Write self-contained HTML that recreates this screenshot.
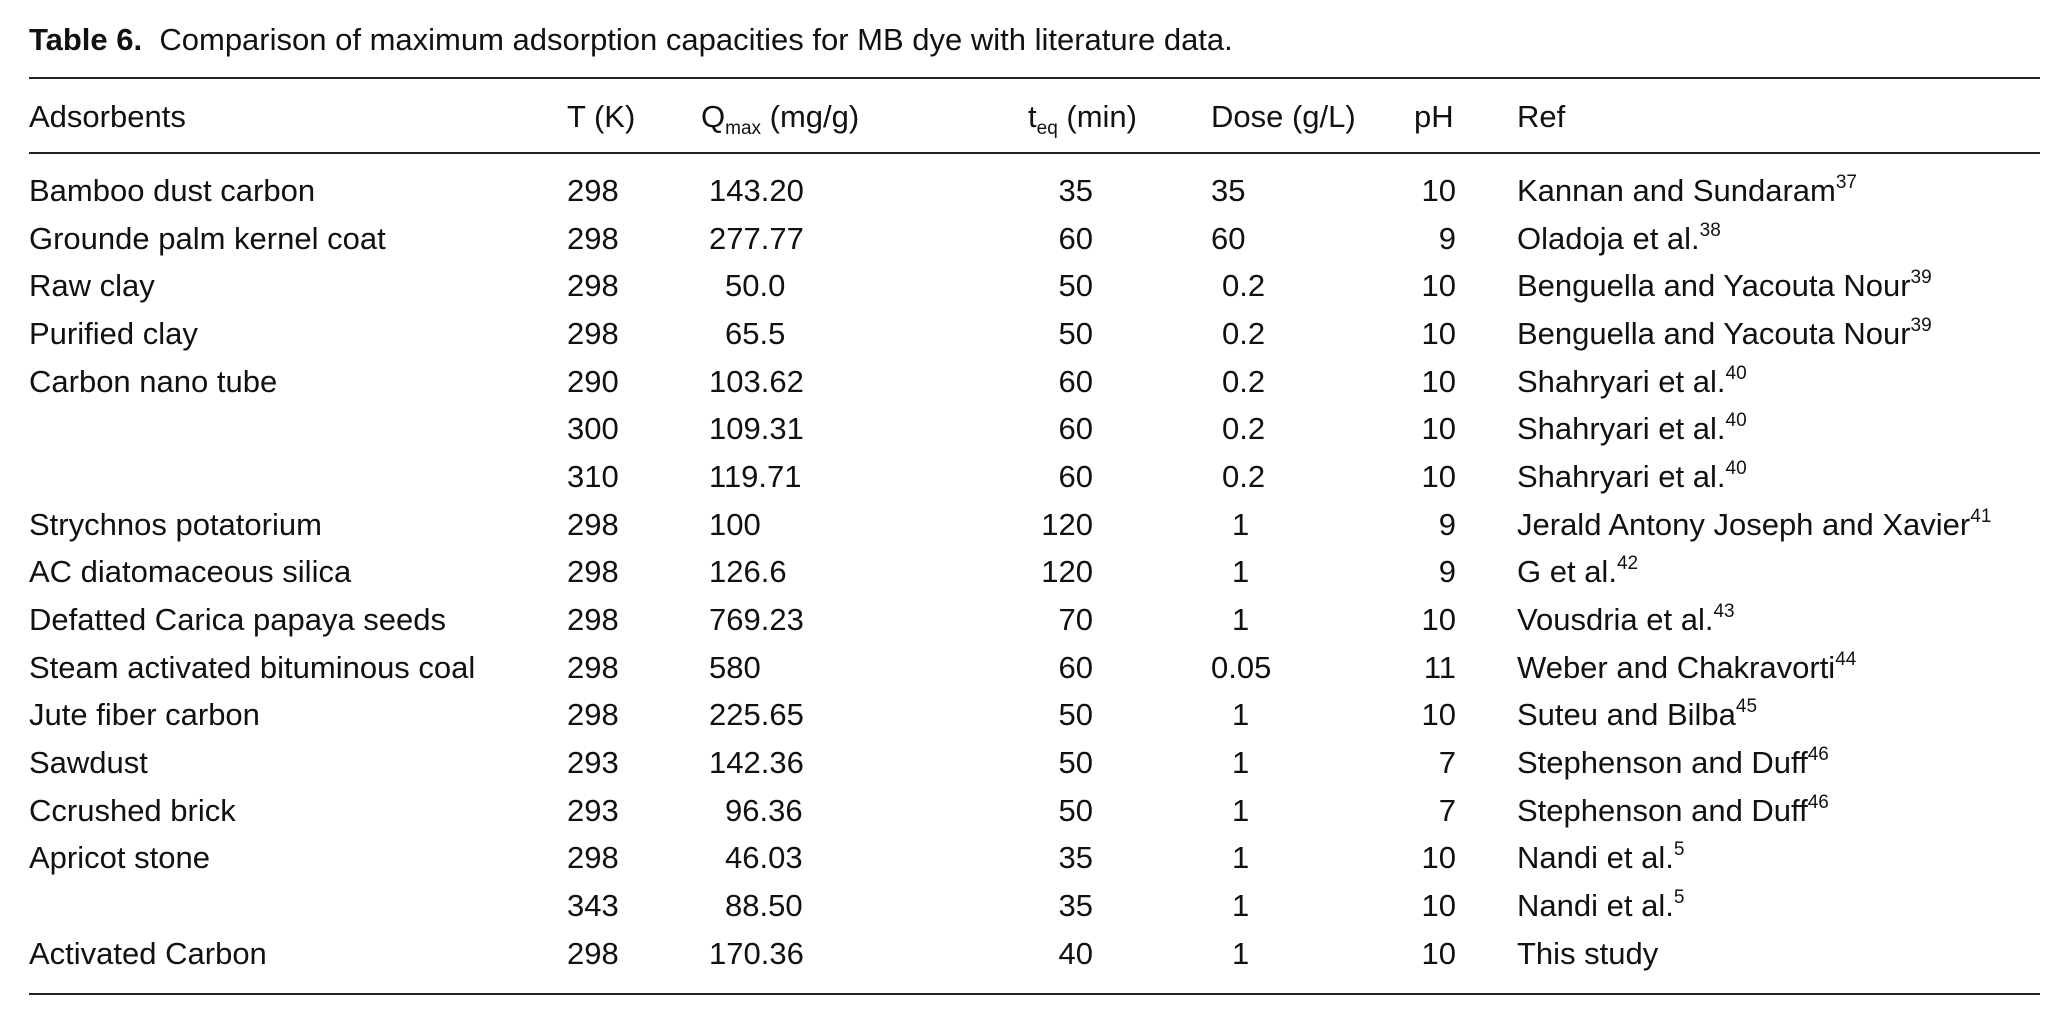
<!DOCTYPE html>
<html><head><meta charset="utf-8"><style>
body{margin:0;width:2067px;height:1021px;background:#fff;position:relative;overflow:hidden;font-family:"Liberation Sans",sans-serif;color:#111;}
.r{position:absolute;left:0;width:2067px;height:40px;line-height:40px;font-size:31px;}
.r span{position:absolute;white-space:nowrap;}
.rr{text-align:right;}
.hl{position:absolute;left:29px;width:2011px;height:2px;background:#222;}
sup{font-size:19px;line-height:0;position:relative;top:-2px;}
.c1{left:29px}.c2{left:567px}.c4r{right:974px}.c6r{right:611px}.c7{left:1517px}
</style></head><body>
<div class="r" style="top:20px"><span style="left:29px"><b>Table 6.</b>&nbsp; Comparison of maximum adsorption capacities for MB dye with literature data.</span></div>
<div class="hl" style="top:77px"></div>
<div class="r" style="top:97px"><span class="c1">Adsorbents</span><span class="c2">T (K)</span><span style="left:701px">Q<sub style="font-size:19px">max</sub> (mg/g)</span><span style="left:1028px">t<sub style="font-size:19px">eq</sub> (min)</span><span style="left:1211px">Dose (g/L)</span><span style="left:1414px">pH</span><span class="c7">Ref</span></div>
<div class="hl" style="top:152px"></div>

<div class="r" style="top:171px"><span class="c1">Bamboo dust carbon</span><span class="c2">298</span><span style="left:709px">143.20</span><span class="c4r">35</span><span style="left:1211px">35</span><span class="c6r">10</span><span class="c7">Kannan and Sundaram<sup>37</sup></span></div>
<div class="r" style="top:219px"><span class="c1">Grounde palm kernel coat</span><span class="c2">298</span><span style="left:709px">277.77</span><span class="c4r">60</span><span style="left:1211px">60</span><span class="c6r">9</span><span class="c7">Oladoja et al.<sup>38</sup></span></div>
<div class="r" style="top:266px"><span class="c1">Raw clay</span><span class="c2">298</span><span style="left:725px">50.0</span><span class="c4r">50</span><span style="left:1222px">0.2</span><span class="c6r">10</span><span class="c7">Benguella and Yacouta Nour<sup>39</sup></span></div>
<div class="r" style="top:314px"><span class="c1">Purified clay</span><span class="c2">298</span><span style="left:725px">65.5</span><span class="c4r">50</span><span style="left:1222px">0.2</span><span class="c6r">10</span><span class="c7">Benguella and Yacouta Nour<sup>39</sup></span></div>
<div class="r" style="top:362px"><span class="c1">Carbon nano tube</span><span class="c2">290</span><span style="left:709px">103.62</span><span class="c4r">60</span><span style="left:1222px">0.2</span><span class="c6r">10</span><span class="c7">Shahryari et al.<sup>40</sup></span></div>
<div class="r" style="top:409px"><span class="c2">300</span><span style="left:709px">109.31</span><span class="c4r">60</span><span style="left:1222px">0.2</span><span class="c6r">10</span><span class="c7">Shahryari et al.<sup>40</sup></span></div>
<div class="r" style="top:457px"><span class="c2">310</span><span style="left:709px">119.71</span><span class="c4r">60</span><span style="left:1222px">0.2</span><span class="c6r">10</span><span class="c7">Shahryari et al.<sup>40</sup></span></div>
<div class="r" style="top:505px"><span class="c1">Strychnos potatorium</span><span class="c2">298</span><span style="left:709px">100</span><span class="c4r">120</span><span style="left:1232px">1</span><span class="c6r">9</span><span class="c7">Jerald Antony Joseph and Xavier<sup>41</sup></span></div>
<div class="r" style="top:552px"><span class="c1">AC diatomaceous silica</span><span class="c2">298</span><span style="left:709px">126.6</span><span class="c4r">120</span><span style="left:1232px">1</span><span class="c6r">9</span><span class="c7">G et al.<sup>42</sup></span></div>
<div class="r" style="top:600px"><span class="c1">Defatted Carica papaya seeds</span><span class="c2">298</span><span style="left:709px">769.23</span><span class="c4r">70</span><span style="left:1232px">1</span><span class="c6r">10</span><span class="c7">Vousdria et al.<sup>43</sup></span></div>
<div class="r" style="top:648px"><span class="c1">Steam activated bituminous coal</span><span class="c2">298</span><span style="left:709px">580</span><span class="c4r">60</span><span style="left:1211px">0.05</span><span class="c6r">11</span><span class="c7">Weber and Chakravorti<sup>44</sup></span></div>
<div class="r" style="top:695px"><span class="c1">Jute fiber carbon</span><span class="c2">298</span><span style="left:709px">225.65</span><span class="c4r">50</span><span style="left:1232px">1</span><span class="c6r">10</span><span class="c7">Suteu and Bilba<sup>45</sup></span></div>
<div class="r" style="top:743px"><span class="c1">Sawdust</span><span class="c2">293</span><span style="left:709px">142.36</span><span class="c4r">50</span><span style="left:1232px">1</span><span class="c6r">7</span><span class="c7">Stephenson and Duff<sup>46</sup></span></div>
<div class="r" style="top:791px"><span class="c1">Ccrushed brick</span><span class="c2">293</span><span style="left:725px">96.36</span><span class="c4r">50</span><span style="left:1232px">1</span><span class="c6r">7</span><span class="c7">Stephenson and Duff<sup>46</sup></span></div>
<div class="r" style="top:838px"><span class="c1">Apricot stone</span><span class="c2">298</span><span style="left:725px">46.03</span><span class="c4r">35</span><span style="left:1232px">1</span><span class="c6r">10</span><span class="c7">Nandi et al.<sup>5</sup></span></div>
<div class="r" style="top:886px"><span class="c2">343</span><span style="left:725px">88.50</span><span class="c4r">35</span><span style="left:1232px">1</span><span class="c6r">10</span><span class="c7">Nandi et al.<sup>5</sup></span></div>
<div class="r" style="top:934px"><span class="c1">Activated Carbon</span><span class="c2">298</span><span style="left:709px">170.36</span><span class="c4r">40</span><span style="left:1232px">1</span><span class="c6r">10</span><span class="c7">This study</span></div>
<div class="hl" style="top:993px"></div>
</body></html>
